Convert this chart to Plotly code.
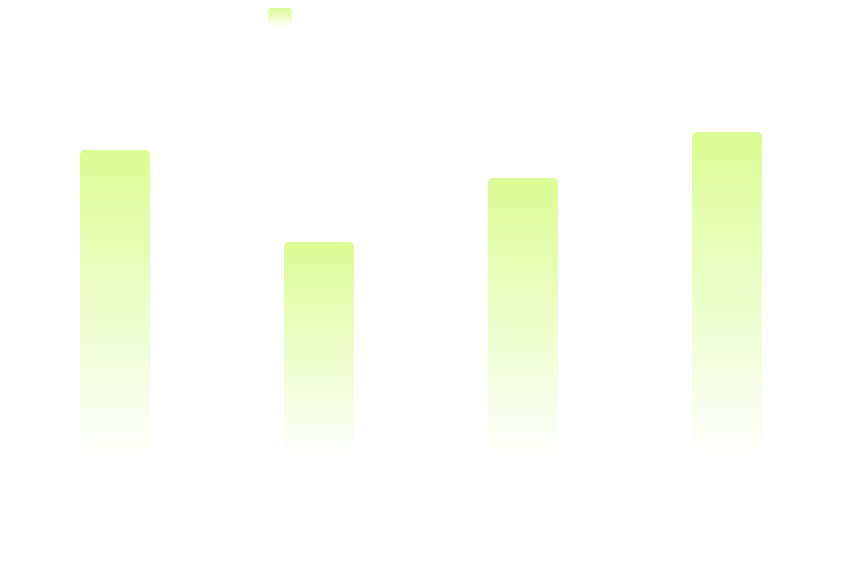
import base64
import plotly.graph_objects as go

# data (axis hidden, 1 unit ~ 1 px)
categories = ["Q1", "Q2", "Q3", "Q4"]
values = [310, 218, 282, 328]
series_name = "销量"

top_rgb = (220, 252, 148)
bottom_rgb = (255, 255, 255)
n_steps = 60

# plot area inside the 850x562 figure
m_l, m_r, m_t, m_b = 5, 29, 52, 110
plot_w = 850 - m_l - m_r
plot_h = 562 - m_t - m_b


def mix(t):
    """t=0 -> bottom colour, t=1 -> top colour"""
    c = [round(b + (a - b) * t) for a, b in zip(top_rgb, bottom_rgb)]
    return "rgb(%d,%d,%d)" % tuple(c)


fig = go.Figure()

# each bar is cut into thin stacked slices to fake a vertical gradient
for i in range(n_steps):
    t = (i + 0.5) / n_steps
    fig.add_trace(go.Bar(
        x=categories,
        y=[v / n_steps for v in values],
        name=series_name,
        marker=dict(color=mix(t), line=dict(width=0)),
        showlegend=False,
        hoverinfo="skip",
    ))

# legend swatch: rounded gradient square
svg = (
    '<svg xmlns="http://www.w3.org/2000/svg" width="24" height="20">'
    '<defs><linearGradient id="g" x1="0" y1="0" x2="0" y2="1">'
    '<stop offset="0" stop-color="rgb(%d,%d,%d)"/>'
    '<stop offset="1" stop-color="#ffffff"/>'
    '</linearGradient></defs>'
    '<rect x="0" y="0" width="24" height="20" rx="4" ry="4" fill="url(#g)"/>'
    '</svg>' % top_rgb
)
svg_uri = "data:image/svg+xml;base64," + base64.b64encode(svg.encode()).decode()

fig.add_layout_image(
    source=svg_uri,
    xref="paper", yref="paper",
    x=(260 - m_l) / plot_w, y=(plot_h + m_t) / plot_h,
    sizex=24 / plot_w, sizey=19 / plot_h,
    xanchor="left", yanchor="top",
    sizing="stretch", layer="above",
)

fig.update_layout(
    width=850,
    height=562,
    barmode="stack",
    bargap=0.657,
    barcornerradius=5,
    paper_bgcolor="white",
    plot_bgcolor="white",
    margin=dict(l=m_l, r=m_r, t=m_t, b=m_b),
    showlegend=False,
    xaxis=dict(visible=False, range=[-0.5, 3.5]),
    yaxis=dict(visible=False, range=[0, 400]),
)

fig.write_html("out.html")
